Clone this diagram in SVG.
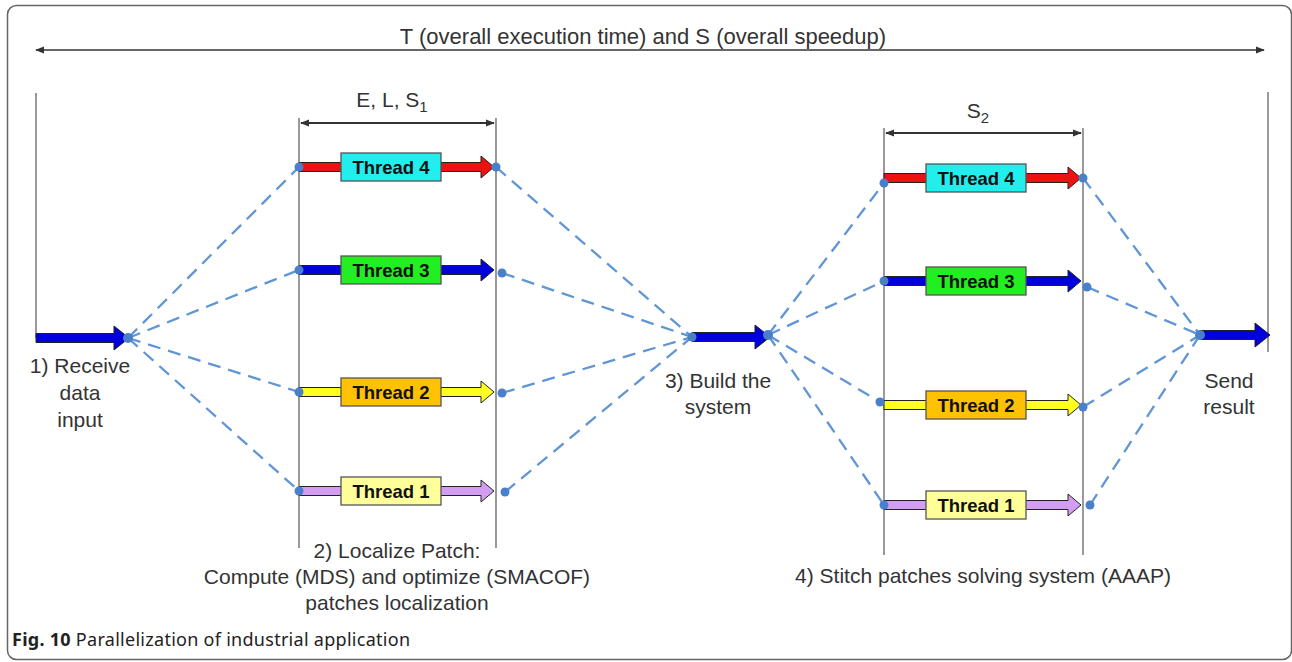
<svg xmlns="http://www.w3.org/2000/svg" width="1292" height="662" viewBox="0 0 1292 662">
<style>
.frame{fill:#fff;stroke:#666;stroke-width:1.5}
.lbl{font-family:"Liberation Sans",Arial,sans-serif;font-size:21px;fill:#333;text-anchor:middle}
.th{font-family:"Liberation Sans",Arial,sans-serif;font-size:18.5px;font-weight:bold;fill:#111;text-anchor:middle}
.vl{stroke:#888;stroke-width:1.7;fill:none}
.dim{stroke:#333;stroke-width:1.8;fill:none}
.dash{stroke:#6095d6;stroke-width:2.3;stroke-dasharray:13 8;fill:none}
.dot{fill:#4a7fcc}
.ar{stroke:#222;stroke-width:1}
.red{fill:#ee1111}.blue{fill:#0000dd}.yel{fill:#ffff22}.vio{fill:#d49ef0}
.box{stroke:#555;stroke-width:1.3}
.cyan{fill:#22eeee}.green{fill:#22ee22}.orange{fill:#ffc200}.lyel{fill:#ffff99}
.cap{font-family:"Noto Sans","Liberation Sans",sans-serif;font-size:18px;fill:#222}
</style>
<defs>
<marker id="ah" viewBox="0 0 10 10" refX="9" refY="5" markerWidth="5" markerHeight="5" orient="auto-start-reverse">
<path d="M0,1 L10,5 L0,9 z" fill="#333"/>
</marker>
</defs>
<rect class="frame" x="7.5" y="5.5" width="1284" height="654" rx="9"/>

<g id="overall">
<line class="dim" x1="36" y1="50" x2="1264" y2="50" style="stroke:#666" marker-start="url(#ah)" marker-end="url(#ah)"/>
<text class="lbl" x="643" y="44" style="font-size:22px">T (overall execution time) and S (overall speedup)</text>
</g>

<g id="connectors">
<line class="dash" x1="128" y1="338" x2="299" y2="167"/>
<line class="dash" x1="128" y1="338" x2="299" y2="270"/>
<line class="dash" x1="128" y1="338" x2="299" y2="392"/>
<line class="dash" x1="128" y1="338" x2="299" y2="491"/>
<line class="dash" x1="496" y1="167" x2="692" y2="337"/>
<line class="dash" x1="502" y1="273" x2="692" y2="337"/>
<line class="dash" x1="502" y1="393" x2="692" y2="337"/>
<line class="dash" x1="505" y1="492" x2="692" y2="337"/>
<line class="dash" x1="768" y1="335" x2="884" y2="183"/>
<line class="dash" x1="768" y1="335" x2="884" y2="281"/>
<line class="dash" x1="768" y1="335" x2="880" y2="402"/>
<line class="dash" x1="768" y1="335" x2="884" y2="505"/>
<line class="dash" x1="1083" y1="178" x2="1200" y2="335"/>
<line class="dash" x1="1087" y1="287" x2="1200" y2="335"/>
<line class="dash" x1="1083" y1="407" x2="1200" y2="335"/>
<line class="dash" x1="1090" y1="505" x2="1200" y2="335"/>
</g>

<g id="receive">
<line class="vl" x1="36" y1="93" x2="36" y2="338"/>
<polygon class="ar blue" points="36,333.5 114,333.5 114,326 129,338 114,350 114,342.5 36,342.5"/>
<circle class="dot" cx="128" cy="338" r="5"/>
<text class="lbl" x="80" y="373">1) Receive</text>
<text class="lbl" x="80" y="400">data</text>
<text class="lbl" x="80" y="427">input</text>
</g>

<g id="localize">
<line class="vl" x1="299" y1="118" x2="299" y2="548"/>
<line class="vl" x1="496" y1="118" x2="496" y2="548"/>
<line class="dim" x1="301" y1="123" x2="494" y2="123" marker-start="url(#ah)" marker-end="url(#ah)"/>
<text class="lbl" x="392" y="107">E, L, S<tspan style="font-size:15px" dy="5">1</tspan></text>
<text class="lbl" x="397" y="558">2) Localize Patch:</text>
<text class="lbl" x="397" y="584">Compute (MDS) and optimize (SMACOF)</text>
<text class="lbl" x="397" y="610">patches localization</text>
</g>

<g id="g1-thread4">
<polygon class="ar red" points="299,162.5 481,162.5 481,156 494,167 481,178 481,171.5 299,171.5"/>
<rect class="box cyan" x="341" y="153" width="100" height="28"/>
<text class="th" x="391" y="174">Thread 4</text>
<circle class="dot" cx="299" cy="167" r="4.5"/><circle class="dot" cx="496" cy="167" r="4.5"/>
</g>
<g id="g1-thread3">
<polygon class="ar blue" points="299,265.5 481,265.5 481,259 494,270 481,281 481,274.5 299,274.5"/>
<rect class="box green" x="341" y="256" width="100" height="28"/>
<text class="th" x="391" y="277">Thread 3</text>
<circle class="dot" cx="299" cy="270" r="4.5"/><circle class="dot" cx="502" cy="273" r="4.5"/>
</g>
<g id="g1-thread2">
<polygon class="ar yel" points="299,387.5 481,387.5 481,381 494,392 481,403 481,396.5 299,396.5"/>
<rect class="box orange" x="341" y="378" width="100" height="28"/>
<text class="th" x="391" y="399">Thread 2</text>
<circle class="dot" cx="299" cy="392" r="4.5"/><circle class="dot" cx="502" cy="393" r="4.5"/>
</g>
<g id="g1-thread1">
<polygon class="ar vio" points="299,486.5 481,486.5 481,480 494,491 481,502 481,495.5 299,495.5"/>
<rect class="box lyel" x="341" y="477" width="100" height="28"/>
<text class="th" x="391" y="498">Thread 1</text>
<circle class="dot" cx="299" cy="491" r="4.5"/><circle class="dot" cx="505" cy="492" r="4.5"/>
</g>

<g id="build">
<polygon class="ar blue" points="692,332.5 755,332.5 755,325 770,337 755,349 755,341.5 692,341.5"/>
<circle class="dot" cx="692" cy="337" r="4.5"/>
<circle class="dot" cx="768" cy="335" r="5"/>
<text class="lbl" x="718" y="388">3) Build the</text>
<text class="lbl" x="718" y="414">system</text>
</g>

<g id="stitch">
<line class="vl" x1="884" y1="128" x2="884" y2="555"/>
<line class="vl" x1="1083" y1="128" x2="1083" y2="555"/>
<line class="dim" x1="886" y1="133" x2="1081" y2="133" marker-start="url(#ah)" marker-end="url(#ah)"/>
<text class="lbl" x="978" y="118">S<tspan style="font-size:15px" dy="5">2</tspan></text>
<text class="lbl" x="983" y="583">4) Stitch patches solving system (AAAP)</text>
</g>

<g id="g2-thread4">
<polygon class="ar red" points="884,173.5 1068,173.5 1068,167 1081,178 1068,189 1068,182.5 884,182.5"/>
<rect class="box cyan" x="926" y="164" width="100" height="28"/>
<text class="th" x="976" y="185">Thread 4</text>
<circle class="dot" cx="884" cy="183" r="4.5"/><circle class="dot" cx="1083" cy="178" r="4.5"/>
</g>
<g id="g2-thread3">
<polygon class="ar blue" points="884,276.5 1068,276.5 1068,270 1081,281 1068,292 1068,285.5 884,285.5"/>
<rect class="box green" x="926" y="267" width="100" height="28"/>
<text class="th" x="976" y="288">Thread 3</text>
<circle class="dot" cx="884" cy="281" r="4.5"/><circle class="dot" cx="1087" cy="287" r="4.5"/>
</g>
<g id="g2-thread2">
<polygon class="ar yel" points="884,400.5 1068,400.5 1068,394 1081,405 1068,416 1068,409.5 884,409.5"/>
<rect class="box orange" x="926" y="391" width="100" height="28"/>
<text class="th" x="976" y="412">Thread 2</text>
<circle class="dot" cx="880" cy="402" r="4.5"/><circle class="dot" cx="1083" cy="407" r="4.5"/>
</g>
<g id="g2-thread1">
<polygon class="ar vio" points="884,500.5 1068,500.5 1068,494 1081,505 1068,516 1068,509.5 884,509.5"/>
<rect class="box lyel" x="926" y="491" width="100" height="28"/>
<text class="th" x="976" y="512">Thread 1</text>
<circle class="dot" cx="884" cy="505" r="4.5"/><circle class="dot" cx="1090" cy="505" r="4.5"/>
</g>

<g id="send">
<line class="vl" x1="1268" y1="92" x2="1268" y2="352"/>
<polygon class="ar blue" points="1200,330.5 1255,330.5 1255,323 1270,335 1255,347 1255,339.5 1200,339.5"/>
<circle class="dot" cx="1200" cy="335" r="5"/>
<text class="lbl" x="1229" y="388">Send</text>
<text class="lbl" x="1229" y="414">result</text>
</g>

<g id="caption">
<text class="cap" x="12" y="646" textLength="398"><tspan font-weight="bold">Fig. 10</tspan> Parallelization of industrial application</text>
</g>
</svg>
